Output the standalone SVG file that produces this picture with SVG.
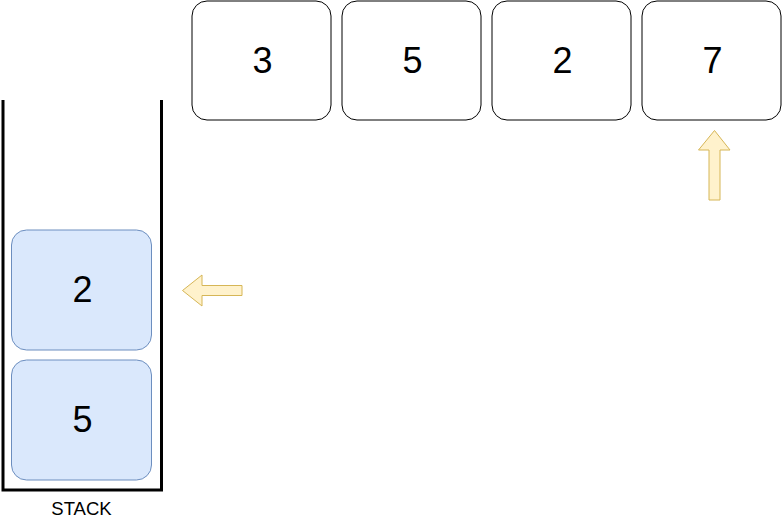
<svg xmlns="http://www.w3.org/2000/svg" width="782" height="531" viewBox="0 0 782 531">
<style>
.box{fill:#ffffff;stroke:#000000;stroke-width:1}
.sbox{fill:#dae8fc;stroke:#6c8ebf;stroke-width:1}
.num{font-family:"Liberation Sans",Arial,sans-serif;font-size:36px;fill:#000000;text-anchor:middle}
.lbl{font-family:"Liberation Sans",Arial,sans-serif;font-size:18.5px;fill:#000000;text-anchor:middle}
.arr{fill:#fff2cc;stroke:#d6b656;stroke-width:1}
</style>
<rect width="782" height="531" fill="#ffffff"/>
<g id="stack">
<path d="M3,100 V490 H161.5 V100" fill="none" stroke="#000000" stroke-width="3"/>
<text class="lbl" x="81.5" y="515">STACK</text>
</g>
<g id="arr1"><rect class="box" x="192" y="1" width="139" height="119" rx="15" ry="15"/><text class="num" x="262.5" y="73">3</text></g>
<g id="arr2"><rect class="box" x="342" y="1" width="139" height="119" rx="15" ry="15"/><text class="num" x="412.5" y="73">5</text></g>
<g id="arr3"><rect class="box" x="492" y="1" width="139" height="119" rx="15" ry="15"/><text class="num" x="562.5" y="73">2</text></g>
<g id="arr4"><rect class="box" x="642" y="1" width="139" height="119" rx="15" ry="15"/><text class="num" x="712.5" y="73">7</text></g>
<g id="stk2"><rect class="sbox" x="11.5" y="230" width="140" height="120" rx="15" ry="15"/><text class="num" x="82.5" y="302">2</text></g>
<g id="stk5"><rect class="sbox" x="11.5" y="360" width="140" height="120" rx="15" ry="15"/><text class="num" x="82.5" y="432">5</text></g>
<g id="connectors">
<path class="arr" d="M182.5,290.5 L202,275 V285.5 H242 V295.5 H202 V306 Z"/>
<path class="arr" d="M714.5,130.5 L730,150 H720 V200 H709 V150 H698.5 Z"/>
</g>
</svg>
